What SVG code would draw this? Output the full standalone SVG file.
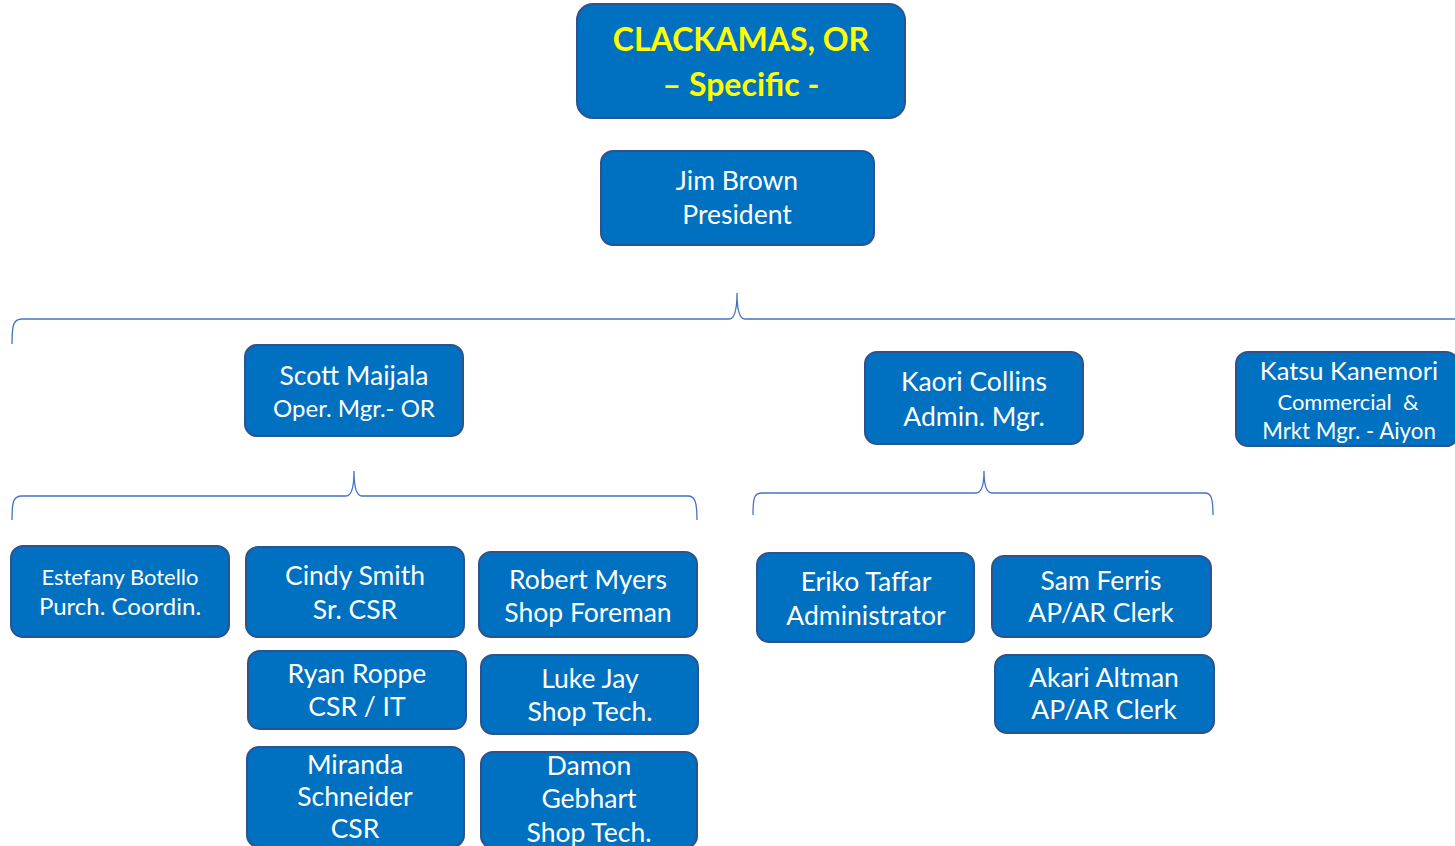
<svg xmlns="http://www.w3.org/2000/svg" width="1455" height="846" viewBox="0 0 1455 846">
<style>
.box{fill:#0070C0;stroke:#2F528F;stroke-width:2}
.t{font-family:Lato,"Open Sans","Liberation Sans",sans-serif;fill:#FFFFFF;text-anchor:middle;font-size:26.5px}
.s{font-size:24px}
.y{fill:#FFFF00;font-weight:bold;font-size:32px}
.br{fill:none;stroke:#4472C4;stroke-width:1.3}
</style>
<rect width="1455" height="846" fill="#FFFFFF"/>
<g id="connectors">
<path class="br" d="M12,344 C12,326 13,319 22,319 L729,319 C734,319 737,310 737,293 C737,310 740,319 745,319 L1460,319"/>
<path class="br" d="M12,520 C12,502 13,496 22,496 L346,496 C351,496 354,488 354,471 C354,488 357,496 362,496 L688,496 C695,496 697,502 697,520"/>
<path class="br" d="M753,515 C753,498 754,493 762,493 L976,493 C981,493 984,486 984,471 C984,486 987,493 992,493 L1205,493 C1211,493 1213,498 1213,515"/>
</g>
<g id="title">
<rect class="box" x="577" y="4" width="328" height="114" rx="16"/>
<text class="t y" x="741" y="51">CLACKAMAS, OR</text>
<text class="t y" x="741" y="96">– Specific -</text>
</g>
<g id="jim-brown">
<rect class="box" x="601" y="151" width="273" height="94" rx="12"/>
<text class="t" x="737" y="190">Jim Brown</text>
<text class="t" x="737" y="224">President</text>
</g>
<g id="scott-maijala">
<rect class="box" x="245" y="345" width="218" height="91" rx="12"/>
<text class="t" x="354" y="385">Scott Maijala</text>
<text class="t s" x="354" y="417">Oper. Mgr.- OR</text>
</g>
<g id="kaori-collins">
<rect class="box" x="865" y="352" width="218" height="92" rx="12"/>
<text class="t" x="974" y="391">Kaori Collins</text>
<text class="t" x="974" y="426">Admin. Mgr.</text>
</g>
<g id="katsu-kanemori">
<rect class="box" x="1236" y="352" width="222" height="94" rx="12"/>
<text class="t" x="1349" y="380" style="font-size:25.5px">Katsu Kanemori</text>
<text class="t" x="1348" y="410" style="font-size:22px" xml:space="preserve">Commercial  &amp;</text>
<text class="t" x="1349" y="439" style="font-size:22.3px">Mrkt Mgr. - Aiyon</text>
</g>
<g id="estefany-botello">
<rect class="box" x="11" y="546" width="218" height="91" rx="12"/>
<text class="t" x="120" y="585" style="font-size:22px">Estefany Botello</text>
<text class="t s" x="120" y="615">Purch. Coordin.</text>
</g>
<g id="cindy-smith">
<rect class="box" x="246" y="547" width="218" height="90" rx="12"/>
<text class="t" x="355" y="585">Cindy Smith</text>
<text class="t" x="355" y="619">Sr. CSR</text>
</g>
<g id="ryan-roppe">
<rect class="box" x="248" y="651" width="218" height="78" rx="12"/>
<text class="t" x="357" y="683">Ryan Roppe</text>
<text class="t" x="357" y="716">CSR / IT</text>
</g>
<g id="miranda-schneider">
<rect class="box" x="247" y="747" width="217" height="100" rx="12"/>
<text class="t" x="355" y="774">Miranda</text>
<text class="t" x="355" y="806">Schneider</text>
<text class="t" x="355" y="838">CSR</text>
</g>
<g id="robert-myers">
<rect class="box" x="479" y="552" width="218" height="85" rx="12"/>
<text class="t" x="588" y="589">Robert Myers</text>
<text class="t" x="588" y="622">Shop Foreman</text>
</g>
<g id="luke-jay">
<rect class="box" x="481" y="655" width="217" height="79" rx="12"/>
<text class="t" x="590" y="688">Luke Jay</text>
<text class="t" x="590" y="721">Shop Tech.</text>
</g>
<g id="damon-gebhart">
<rect class="box" x="481" y="752" width="216" height="96" rx="12"/>
<text class="t" x="589" y="775">Damon</text>
<text class="t" x="589" y="808">Gebhart</text>
<text class="t" x="589" y="842">Shop Tech.</text>
</g>
<g id="eriko-taffar">
<rect class="box" x="757" y="553" width="217" height="89" rx="12"/>
<text class="t" x="866" y="591">Eriko Taffar</text>
<text class="t" x="866" y="625">Administrator</text>
</g>
<g id="sam-ferris">
<rect class="box" x="992" y="556" width="219" height="81" rx="12"/>
<text class="t" x="1101" y="590">Sam Ferris</text>
<text class="t" x="1101" y="622">AP/AR Clerk</text>
</g>
<g id="akari-altman">
<rect class="box" x="995" y="655" width="219" height="78" rx="12"/>
<text class="t" x="1104" y="687">Akari Altman</text>
<text class="t" x="1104" y="719">AP/AR Clerk</text>
</g>
</svg>
